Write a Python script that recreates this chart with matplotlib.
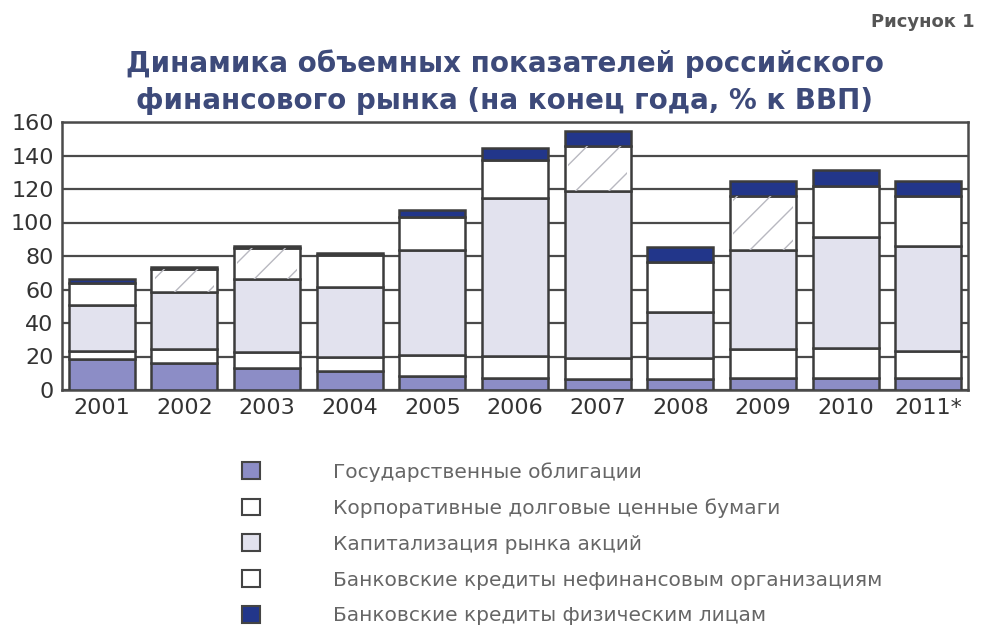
import numpy as np
import matplotlib
matplotlib.use('Agg')
import matplotlib.pyplot as plt
from matplotlib.patches import Patch

plt.rcParams['font.family'] = ['DejaVu Sans']

years = ['2001', '2002', '2003', '2004', '2005', '2006', '2007', '2008', '2009', '2010', '2011*']
gov_bonds = [18.4, 16.4, 13.0, 11.6, 8.6, 7.4, 6.4, 6.4, 7.4, 7.4, 7.4]
corp_bonds = [5.0, 8.0, 9.6, 8.4, 12.0, 13.0, 13.0, 13.0, 17.0, 17.6, 16.0]
market_cap = [27.6, 34.1, 43.9, 41.5, 62.9, 94.2, 99.2, 27.1, 59.1, 66.1, 62.6]
credit_corp = [13.0, 13.5, 18.0, 19.0, 20.0, 23.0, 27.0, 30.0, 32.1, 30.9, 29.6]
credit_pers = [2.0, 1.5, 1.5, 1.5, 4.1, 7.0, 9.0, 9.0, 9.0, 9.2, 9.4]
hatched = ['2002', '2003', '2007', '2009']

labels = ['Государственные облигации',
          'Корпоративные долговые ценные бумаги',
          'Капитализация рынка акций',
          'Банковские кредиты нефинансовым организациям',
          'Банковские кредиты физическим лицам']
colors = ['#8c8dc6', '#ffffff', '#e2e2ee', '#ffffff', '#22368a']
edge = '#3c3c3c'

fig = plt.figure(figsize=(9.84, 6.3), dpi=100)
ax = fig.add_axes([62 / 984, 1 - 390 / 630, 906 / 984, 268 / 630])

x = np.arange(len(years))
w = 0.8
series = [gov_bonds, corp_bonds, market_cap, credit_corp, credit_pers]
bottom = np.zeros(len(years))
for i, vals in enumerate(series):
    vals = np.array(vals)
    ax.bar(x, vals, w, bottom=bottom, color=colors[i], edgecolor=edge,
           linewidth=1.8, zorder=3)
    if i == 3:
        # faint diagonal hatching seen in some years
        for j, y in enumerate(years):
            if y.rstrip('*') in hatched:
                ax.bar(x[j], vals[j], w * 0.9, bottom=bottom[j], color='none',
                       edgecolor='#b8b8c0', linewidth=0, hatch='/', zorder=3.5)
    bottom += vals

ax.set_xlim(-0.48, len(years) - 0.52)
ax.set_ylim(0, 160)
ax.set_yticks(range(0, 161, 20))
ax.set_xticks(x)
ax.set_xticklabels(years)
ax.yaxis.grid(True, color='#4a4a4a', linewidth=1.6, zorder=0)
ax.set_axisbelow(True)
ax.tick_params(length=0, labelsize=16, colors='#333333', pad=6)
for s in ax.spines.values():
    s.set_color('#4a4a4a')
    s.set_linewidth(1.8)

fig.text(505 / 984, 1 - 82 / 630,
         'Динамика объемных показателей российского\nфинансового рынка (на конец года, % к ВВП)',
         ha='center', va='center', fontsize=20, fontweight='bold', color='#3d4a7a',
         linespacing=1.4)
fig.text(975 / 984, 1 - 22 / 630, 'Рисунок 1', ha='right', va='center',
         fontsize=13, fontweight='bold', color='#555555')

handles = [Patch(facecolor=c, edgecolor='#444444', linewidth=1.5) for c in colors]
fig.legend(handles, labels, loc='upper left', bbox_to_anchor=(232 / 984, 1 - 452 / 630),
           frameon=False, borderpad=0, handlelength=0.9, handleheight=0.9,
           handletextpad=3.6, labelspacing=0.82, fontsize=14.5, labelcolor='#666666')

fig.savefig('out.png', dpi=100, facecolor='white')
